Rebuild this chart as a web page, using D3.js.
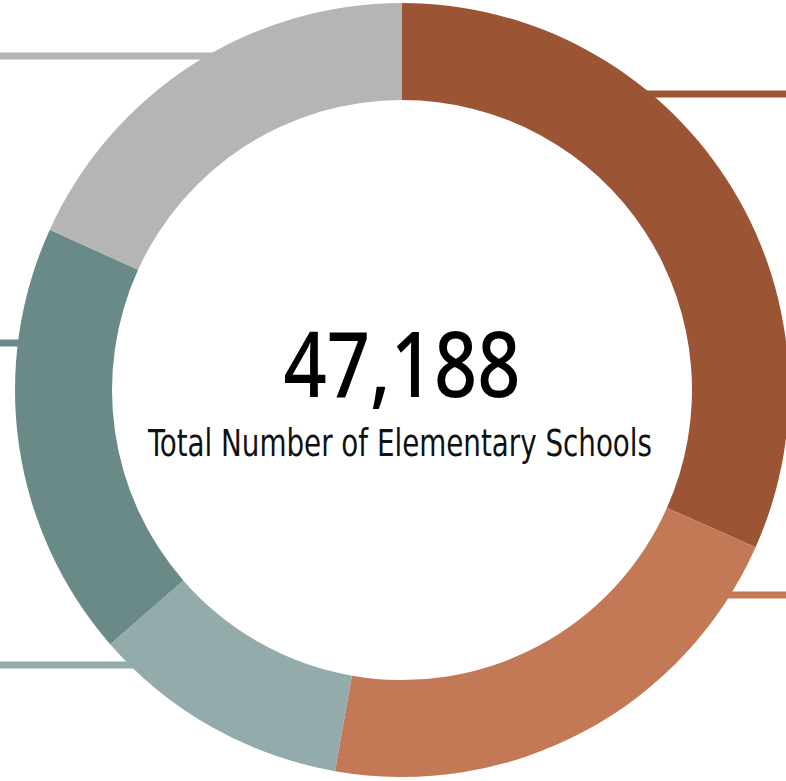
<!DOCTYPE html>
<html>
<head>
<meta charset="utf-8">
<script src="https://cdn.jsdelivr.net/npm/d3@7"></script>
<style>
  html, body { margin: 0; padding: 0; background: #ffffff; }
  svg { display: block; }
</style>
</head>
<body>
<svg id="chart" width="786" height="781"></svg>
<script>
// Elementary schools by segment, clockwise from twelve o'clock
const segments = ["Segment A", "Segment B", "Segment C", "Segment D", "Segment E"];
const schools = [14940, 9960, 5110, 8590, 8588];
const colors = ["#9b5434", "#c47956", "#94abac", "#6a8a87", "#b5b5b5"];
const totalLabel = "47,188";
const subtitle = "Total Number of Elementary Schools";

// Height at which each callout line leaves the ring
const leaderY = [94, 595, 665, 343, 56];

const width = 786, height = 781;
const cx = 402, cy = 390;
const outerR = 387, innerR = 290;
const midR = (outerR + innerR) / 2;

const svg = d3.select("#chart");

const data = segments.map((name, i) => ({ name, value: schools[i], color: colors[i], ly: leaderY[i] }));

const pie = d3.pie().value(d => d.value).sort(null);
const arcs = pie(data);
const arc = d3.arc().innerRadius(innerR).outerRadius(outerR);

// Callout lines sit under the ring and run out to the page edge
const lines = svg.append("g");
arcs.forEach(a => {
  const mid = (a.startAngle + a.endAngle) / 2;
  const right = Math.sin(mid) >= 0;
  const dy = a.data.ly - cy;
  const dx = Math.sqrt(Math.max(0, midR * midR - dy * dy));
  const x0 = right ? cx + dx : cx - dx;
  const x1 = right ? width : 0;
  lines.append("line")
    .attr("x1", x0).attr("x2", x1)
    .attr("y1", a.data.ly).attr("y2", a.data.ly)
    .attr("stroke", a.data.color)
    .attr("stroke-width", 7);
});

const g = svg.append("g").attr("transform", `translate(${cx},${cy})`);
g.selectAll("path")
  .data(arcs)
  .join("path")
  .attr("d", arc)
  .attr("fill", d => d.data.color);

// Centre total
svg.append("text")
  .attr("x", cx).attr("y", 397)
  .attr("text-anchor", "middle")
  .attr("font-family", "'Noto Sans', sans-serif")
  .attr("font-size", 90)
  .attr("font-weight", 500)
  .attr("fill", "#000")
  .attr("textLength", 237)
  .attr("lengthAdjust", "spacingAndGlyphs")
  .text(totalLabel);

svg.append("text")
  .attr("x", 400).attr("y", 456)
  .attr("text-anchor", "middle")
  .attr("font-family", "'Liberation Sans Narrow', 'DejaVu Sans Condensed', sans-serif")
  .attr("font-size", 37)
  .attr("fill", "#111")
  .attr("textLength", 504)
  .attr("lengthAdjust", "spacingAndGlyphs")
  .text(subtitle);
</script>
</body>
</html>
